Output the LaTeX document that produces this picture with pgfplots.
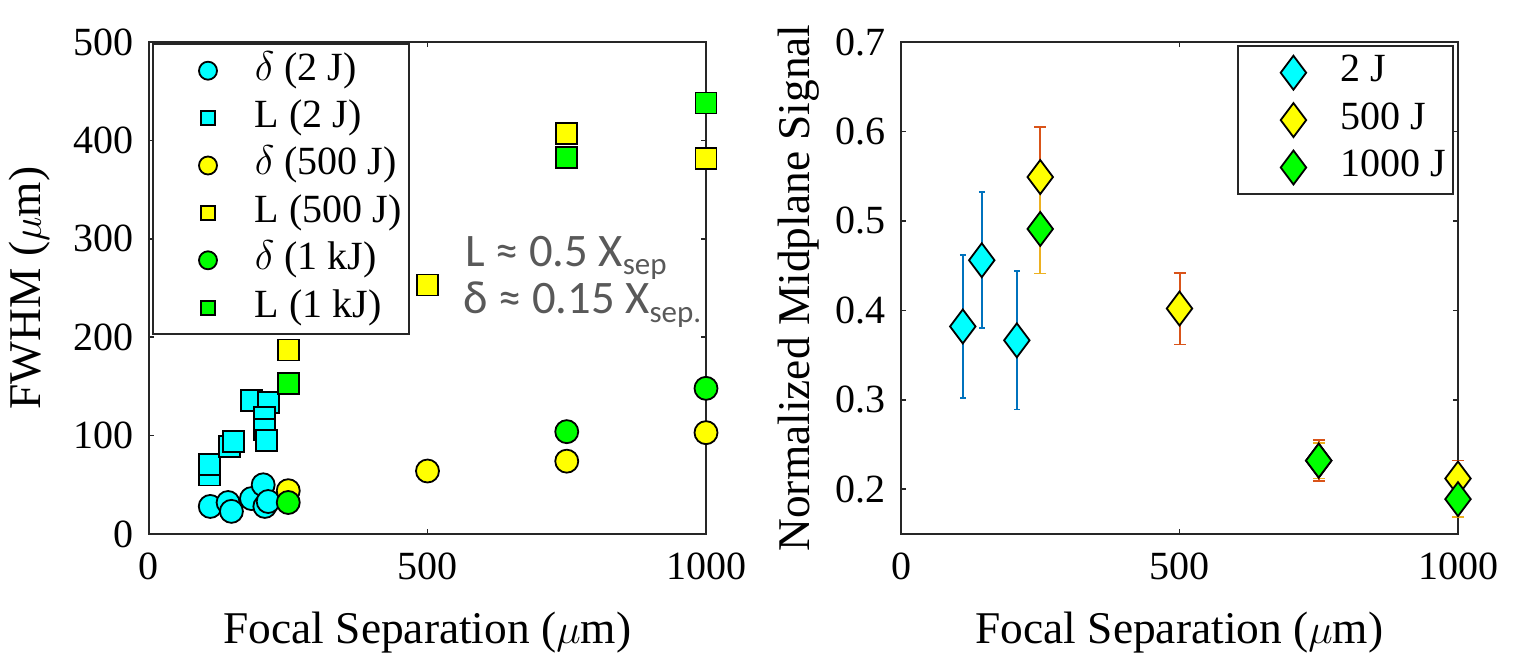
\documentclass[border=0pt]{standalone}
\usepackage{pgfplots}
\pgfplotsset{compat=1.18}
\usepackage{fontspec}
\setmainfont{Liberation Serif}
\newfontfamily\calibri{Carlito}

\definecolor{axgray}{HTML}{262626}
\definecolor{mblue}{HTML}{0072BD}
\definecolor{morange}{HTML}{D95319}
\definecolor{myellow}{HTML}{EDB120}
\definecolor{notegray}{HTML}{595959}
\definecolor{fcyan}{RGB}{0,255,255}
\definecolor{fyellow}{RGB}{255,255,0}
\definecolor{fgreen}{RGB}{0,255,0}

\pgfplotsset{
  panel/.style={
    scale only axis, width=278.5pt, height=246pt,
    xmin=0, xmax=1000, xtick={0,500,1000}, xticklabels={0,500,1000},
    tick align=inside, major tick length=2.5pt,
    axis line style={axgray, line width=1pt},
    tick style={axgray, line width=0.8pt},
    ticklabel style={font=\fontsize{20}{24}\selectfont},
    /pgf/number format/assume math mode=true,
    xticklabel shift=6pt, yticklabel shift=4pt,
    label style={font=\fontsize{22.7}{27}\selectfont},
    xlabel style={at={(axis description cs:0.5,-0.2012)}, anchor=center},
    clip=false,
    legend cell align=left,
    legend style={font=\fontsize{20}{24}\selectfont, draw=axgray, line width=1pt,
      inner sep=1.5pt, nodes={inner sep=2pt, text height=14.5pt, text depth=5.2pt}},
    legend image code/.code={\path (-25.5pt,0) (21pt,0); \draw[##1] plot coordinates {(0pt,0pt)};},
  },
  dcirc/.style={only marks, mark=*, mark size=5.75pt, mark options={fill=#1, draw=black, line width=0.9pt},
    legend image post style={mark size=4.5pt}},
  lsq/.style={only marks, mark=square*, mark size=5.25pt, mark options={fill=#1, draw=black, line width=0.9pt},
    legend image post style={mark size=3.5pt}},
  dia/.style={only marks, mark=diamond*, mark size=8.5pt, mark options={fill=#1, draw=black, line width=0.9pt}},
}

\begin{document}
\begin{tikzpicture}
\useasboundingbox (-74.5pt,-61pt) rectangle (682.5pt,267pt);

% left: FWHM
\begin{axis}[panel, at={(0,0)}, anchor=south west,
  ymin=0, ymax=500, ytick={0,100,200,300,400,500},
  xlabel={Focal Separation ($\mu$m)},
  ylabel={FWHM ($\mu$m)},
  ylabel style={at={(axis description cs:-0.2137,0.5)}, anchor=center},
  legend style={at={(axis description cs:0,1)}, anchor=north west, xshift=1.5pt, yshift=-0.5pt},
]
\addplot[dcirc=fcyan] coordinates {
(110,28) (142,32) (148,23) (184,36) (205,50) (208,28) (214,33)
};
\addlegendentry{$\delta$ (2 J)}
\addplot[lsq=fcyan] coordinates {
(108,60) (108,71) (145,89) (151,94) (184,136) (214,134) (208,118) (208,106) (211,95)
};
\addlegendentry{L (2 J)}
\addplot[dcirc=fyellow] coordinates {
(250,44) (500,64) (750,74) (1000,103)
};
\addlegendentry{$\delta$ (500 J)}
\addplot[lsq=fyellow] coordinates {
(250,187) (500,253) (750,407) (1000,382)
};
\addlegendentry{L (500 J)}
\addplot[dcirc=fgreen] coordinates {
(250,32) (750,104) (1000,148)
};
\addlegendentry{$\delta$ (1 kJ)}
\addplot[lsq=fgreen] coordinates {
(250,153) (750,383) (1000,438)
};
\addlegendentry{L (1 kJ)}

\node[anchor=base west, inner sep=0, text=notegray, font=\calibri\fontsize{23.3}{28}\selectfont]
  at (axis cs:567,272) {L ≈ 0.5 X\raisebox{-4.3pt}{\fontsize{15.5}{15.5}\selectfont sep}};
\node[anchor=base west, inner sep=0, text=notegray, font=\calibri\fontsize{23.3}{28}\selectfont]
  at (axis cs:564,224) {δ ≈ 0.15 X\raisebox{-4.3pt}{\fontsize{15.5}{15.5}\selectfont sep.}};
\end{axis}

% right: midplane signal
\begin{axis}[panel, at={(376pt,0)}, anchor=south west,
  ymin=0.15, ymax=0.7, ytick={0.2,0.3,0.4,0.5,0.6,0.7},
  yticklabels={0.2,0.3,0.4,0.5,0.6,0.7},
  xlabel={Focal Separation ($\mu$m)},
  ylabel={Normalized Midplane Signal},
  ylabel style={at={(axis description cs:-0.1831,0.5)}, anchor=center},
  legend style={at={(axis description cs:1,1)}, anchor=north east, xshift=-2pt, yshift=-1.5pt},
]
\addplot[dia=fcyan, error bars/.cd, y dir=both, y explicit,
  error bar style={mblue, line width=1.1pt},
  error mark options={rotate=90, mark size=1.5pt, mblue, line width=0.8pt}]
  table[x=x, y=y, y error=e] {
x y e
111 0.382 0.080
145 0.456 0.076
208 0.3665 0.0775
};
\addlegendentry{2 J}
\addplot[dia=fyellow, error bars/.cd, y dir=both, y explicit,
  error bar style={morange, line width=1pt},
  error mark options={rotate=90, mark size=3pt, morange, line width=0.8pt}]
  table[x=x, y=y, y error=e] {
x y e
250 0.549 0.056
500 0.402 0.040
750 0.232 0.023
1000 0.212 0.020
};
\addlegendentry{500 J}
\addplot[dia=fgreen, error bars/.cd, y dir=both, y explicit,
  error bar style={myellow, line width=1pt},
  error mark options={rotate=90, mark size=3pt, myellow, line width=0.8pt}]
  table[x=x, y=y, y error=e] {
x y e
250 0.491 0.050
750 0.232 0.020
1000 0.189 0.020
};
\addlegendentry{1000 J}
\end{axis}
\end{tikzpicture}
\end{document}
